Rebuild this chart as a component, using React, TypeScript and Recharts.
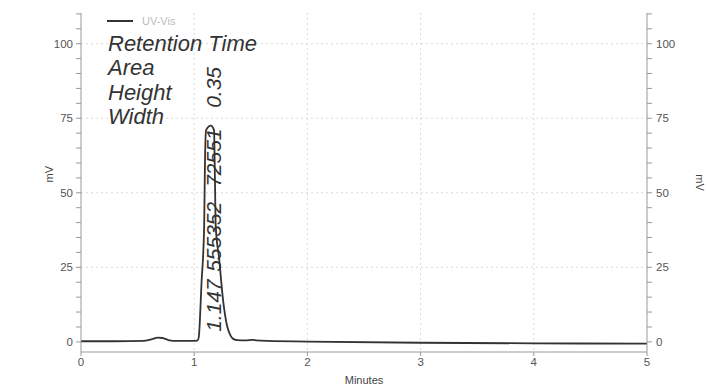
import { LineChart, Line, XAxis, YAxis, CartesianGrid, ReferenceDot } from 'recharts'

const minutes = [0, 0.3, 0.55, 0.62, 0.68, 0.72, 0.78, 0.85, 1.0, 1.03, 1.04, 1.065, 1.088, 1.095, 1.105, 1.147, 1.175, 1.183, 1.19, 1.22, 1.255, 1.29, 1.32, 1.345, 1.38, 1.45, 1.52, 1.55, 1.65, 2.0, 3.0, 4.0, 5.0]
const uvVis = [0.2, 0.2, 0.3, 0.8, 1.4, 1.3, 0.5, 0.3, 0.3, 0.5, 1.5, 20, 39, 60, 71, 72.5, 71, 55, 39, 28, 14, 5.4, 2.2, 1.0, 0.6, 0.5, 0.7, 0.5, 0.3, 0.1, -0.3, -0.5, -0.6]

const xTicks = [0, 1, 2, 3, 4, 5]
const yTicks = [0, 5, 10, 15, 20, 25, 30, 35, 40, 45, 50, 55, 60, 65, 70, 75, 80, 85, 90, 95, 100, 105, 110]
const yLabelled = [0, 25, 50, 75, 100]

const statNames = ['Retention Time', 'Area', 'Height', 'Width']
const peakRt = 1.147
const peakStats = ['1.147', '555352', '72551', '0.35']
const statOffsets = [10, 70, 155, 234]

const data = minutes.map((t, i) => ({ t, mv: uvVis[i] }))

const FONT = '"Liberation Sans", Arial, sans-serif'
const tickStyle = { fontSize: 11.5, fill: '#555', fontFamily: FONT }

function PeakLabel(props: any) {
  const vb = props.viewBox || {}
  const cx = vb.x + vb.width / 2
  const cy = vb.y + vb.height / 2
  return (
    <g>
      {peakStats.map((s, i) => (
        <text
          key={i}
          transform={`translate(${cx + 3}, ${cy - statOffsets[i]}) rotate(-90)`}
          dominantBaseline="central"
          fontSize={21}
          fontStyle="italic"
          fontFamily={FONT}
          fill="#333"
        >
          {s}
        </text>
      ))}
    </g>
  )
}

function RightUnit(props: any) {
  const vb = props.viewBox || {}
  const x = vb.x + vb.width + 13
  const y = vb.y + vb.height / 2
  return (
    <text
      transform={`translate(${x}, ${y}) rotate(90)`}
      textAnchor="middle"
      dominantBaseline="central"
      fontSize={11}
      fill="#444"
      fontFamily={FONT}
    >
      mV
    </text>
  )
}

export default function App() {
  return (
    <div style={{ position: 'fixed', left: 0, top: 0, width: 708, height: 392, background: '#fff' }}>
      <LineChart width={708} height={392} data={data} margin={{ top: 13, right: 21, left: 41, bottom: 10 }}>
        <CartesianGrid
          yAxisId="left"
          stroke="#d9d9d9"
          strokeDasharray="2 3"
          verticalValues={[1, 2, 3, 4]}
          horizontalValues={[25, 50, 75, 100]}
        />
        <XAxis
          dataKey="t"
          type="number"
          domain={[0, 5]}
          ticks={xTicks}
          tick={tickStyle}
          tickSize={4}
          tickMargin={2}
          height={30}
          stroke="#999"
          label={{ value: 'Minutes', position: 'insideBottom', offset: -2, fontSize: 11, fill: '#444', fontFamily: FONT }}
        />
        <XAxis xAxisId="top" orientation="top" type="number" domain={[0, 5]} height={0} tick={false} tickLine={false} stroke="#aaa" />
        <YAxis
          yAxisId="left"
          type="number"
          domain={[-3.4, 110.3]}
          ticks={yTicks}
          interval={0}
          allowDataOverflow
          width={40}
          tickSize={5}
          tickMargin={3}
          stroke="#999"
          tick={tickStyle}
          tickFormatter={(v: number) => (yLabelled.includes(v) ? String(v) : '')}
          label={{ value: 'mV', angle: -90, position: 'insideLeft', offset: 8, fontSize: 11, fill: '#444', fontFamily: FONT }}
        />
        <YAxis
          yAxisId="right"
          orientation="right"
          type="number"
          domain={[-3.4, 110.3]}
          ticks={yTicks}
          interval={0}
          allowDataOverflow
          width={40}
          tickSize={5}
          tickMargin={4}
          stroke="#999"
          tick={tickStyle}
          tickFormatter={(v: number) => (yLabelled.includes(v) ? String(v) : '')}
          label={(p: any) => <RightUnit {...p} />}
        />
        <Line
          yAxisId="left"
          type="monotone"
          dataKey="mv"
          stroke="#333"
          strokeWidth={1.8}
          dot={false}
          isAnimationActive={false}
        />
        <ReferenceDot yAxisId="left" x={peakRt} y={0} r={1} fill="none" stroke="none" ifOverflow="visible" label={(p: any) => <PeakLabel {...p} />} />
      </LineChart>
      <svg width={708} height={392} style={{ position: 'absolute', left: 0, top: 0, pointerEvents: 'none' }}>
        <line x1={107} y1={21} x2={133} y2={21} stroke="#333" strokeWidth={2} />
        <text x={142} y={25} fontSize={11} fill="#bbb" fontFamily={FONT}>UV-Vis</text>
        {statNames.map((s, i) => (
          <text key={s} x={108} y={51 + i * 24.3} fontSize={22} fontStyle="italic" fill="#333" fontFamily={FONT}>
            {s}
          </text>
        ))}
      </svg>
    </div>
  )
}
